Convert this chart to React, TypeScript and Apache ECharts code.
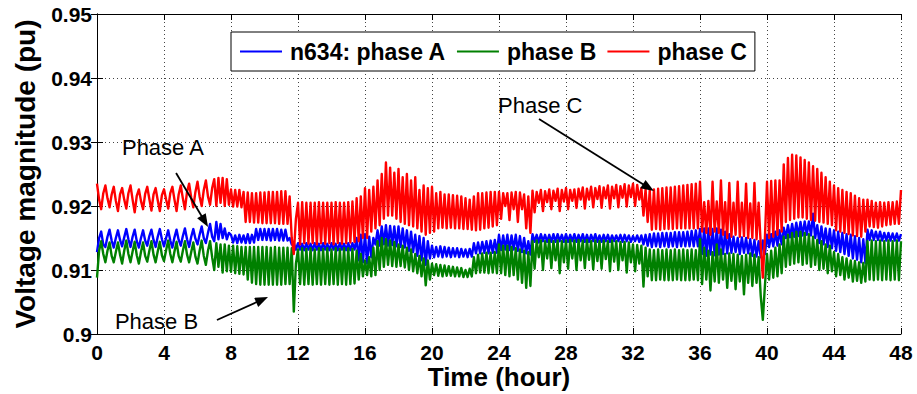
import { useEffect, useRef } from "react";
import * as echarts from "echarts";

// ---- data (per-unit voltage, sampled every 0.125 h, 0..48 h; one row per hour) ----
const STEP_HOURS = 0.125;
const xTickValues = [0, 4, 8, 12, 16, 20, 24, 28, 32, 36, 40, 44, 48];
const yTickLabels = ["0.9", "0.91", "0.92", "0.93", "0.94", "0.95"];

const seriesNames = ["n634: phase A", "phase B", "phase C"];

const phaseA = [
  0.9128, 0.9150, 0.9160, 0.9140, 0.9136, 0.9152, 0.9163, 0.9146,
  0.9135, 0.9150, 0.9162, 0.9147, 0.9137, 0.9151, 0.9164, 0.9148,
  0.9136, 0.9152, 0.9163, 0.9145, 0.9135, 0.9150, 0.9162, 0.9146,
  0.9138, 0.9153, 0.9163, 0.9147, 0.9136, 0.9152, 0.9164, 0.9148,
  0.9137, 0.9150, 0.9162, 0.9146, 0.9135, 0.9151, 0.9163, 0.9147,
  0.9138, 0.9153, 0.9165, 0.9148, 0.9136, 0.9152, 0.9164, 0.9149,
  0.9140, 0.9155, 0.9168, 0.9150, 0.9142, 0.9158, 0.9172, 0.9152,
  0.9145, 0.9175, 0.9148, 0.9172, 0.9150, 0.9165, 0.9148, 0.9158,
  0.9155, 0.9143, 0.9154, 0.9142, 0.9155, 0.9143, 0.9154, 0.9142,
  0.9156, 0.9142, 0.9155, 0.9143, 0.9164, 0.9147, 0.9164, 0.9147,
  0.9164, 0.9147, 0.9164, 0.9146, 0.9164, 0.9147, 0.9164, 0.9146,
  0.9163, 0.9146, 0.9163, 0.9146, 0.9150, 0.9140, 0.9142, 0.9132,
  0.9142, 0.9132, 0.9141, 0.9131, 0.9142, 0.9132, 0.9141, 0.9131,
  0.9142, 0.9132, 0.9141, 0.9131, 0.9142, 0.9132, 0.9141, 0.9131,
  0.9142, 0.9132, 0.9141, 0.9131, 0.9142, 0.9132, 0.9141, 0.9131,
  0.9142, 0.9131, 0.9142, 0.9132, 0.9150, 0.9115, 0.9155, 0.9112,
  0.9156, 0.9110, 0.9152, 0.9120, 0.9150, 0.9140, 0.9162, 0.9138,
  0.9168, 0.9140, 0.9170, 0.9138, 0.9169, 0.9139, 0.9168, 0.9137,
  0.9168, 0.9136, 0.9165, 0.9135, 0.9162, 0.9130, 0.9160, 0.9128,
  0.9155, 0.9122, 0.9153, 0.9115, 0.9150, 0.9108, 0.9145, 0.9118,
  0.9138, 0.9120, 0.9136, 0.9121, 0.9137, 0.9120, 0.9136, 0.9121,
  0.9135, 0.9120, 0.9134, 0.9121, 0.9134, 0.9120, 0.9133, 0.9121,
  0.9132, 0.9120, 0.9133, 0.9121, 0.9142, 0.9126, 0.9143, 0.9126,
  0.9144, 0.9127, 0.9145, 0.9126, 0.9146, 0.9127, 0.9147, 0.9127,
  0.9155, 0.9131, 0.9154, 0.9132, 0.9155, 0.9131, 0.9154, 0.9132,
  0.9155, 0.9130, 0.9153, 0.9128, 0.9150, 0.9126, 0.9145, 0.9124,
  0.9156, 0.9144, 0.9155, 0.9143, 0.9156, 0.9145, 0.9155, 0.9144,
  0.9155, 0.9144, 0.9156, 0.9144, 0.9156, 0.9145, 0.9155, 0.9144,
  0.9156, 0.9144, 0.9155, 0.9145, 0.9156, 0.9144, 0.9155, 0.9145,
  0.9156, 0.9144, 0.9155, 0.9144, 0.9155, 0.9145, 0.9156, 0.9144,
  0.9154, 0.9144, 0.9155, 0.9145, 0.9155, 0.9144, 0.9154, 0.9145,
  0.9154, 0.9145, 0.9155, 0.9144, 0.9155, 0.9145, 0.9154, 0.9144,
  0.9153, 0.9145, 0.9154, 0.9144, 0.9154, 0.9140, 0.9155, 0.9138,
  0.9156, 0.9136, 0.9157, 0.9137, 0.9157, 0.9136, 0.9158, 0.9137,
  0.9158, 0.9136, 0.9158, 0.9137, 0.9159, 0.9136, 0.9159, 0.9137,
  0.9159, 0.9137, 0.9160, 0.9137, 0.9161, 0.9137, 0.9162, 0.9137,
  0.9164, 0.9125, 0.9165, 0.9122, 0.9165, 0.9124, 0.9164, 0.9123,
  0.9165, 0.9124, 0.9163, 0.9125, 0.9160, 0.9126, 0.9156, 0.9127,
  0.9152, 0.9128, 0.9150, 0.9125, 0.9151, 0.9127, 0.9150, 0.9126,
  0.9148, 0.9122, 0.9147, 0.9121, 0.9145, 0.9120, 0.9146, 0.9125,
  0.9155, 0.9136, 0.9156, 0.9137, 0.9160, 0.9138, 0.9162, 0.9140,
  0.9166, 0.9150, 0.9170, 0.9151, 0.9172, 0.9152, 0.9174, 0.9153,
  0.9175, 0.9154, 0.9176, 0.9155, 0.9176, 0.9154, 0.9188, 0.9150,
  0.9170, 0.9142, 0.9168, 0.9140, 0.9165, 0.9136, 0.9164, 0.9134,
  0.9162, 0.9130, 0.9160, 0.9128, 0.9158, 0.9125, 0.9156, 0.9122,
  0.9155, 0.9118, 0.9153, 0.9116, 0.9150, 0.9112, 0.9148, 0.9111,
  0.9163, 0.9147, 0.9162, 0.9147, 0.9160, 0.9147, 0.9160, 0.9146,
  0.9158, 0.9146, 0.9158, 0.9146, 0.9157, 0.9146, 0.9157, 0.9146,
  0.9156,
];

const phaseB = [
  0.9088, 0.9130, 0.9145, 0.9125, 0.9112, 0.9130, 0.9143, 0.9122,
  0.9112, 0.9128, 0.9143, 0.9124, 0.9110, 0.9130, 0.9146, 0.9125,
  0.9112, 0.9129, 0.9144, 0.9123, 0.9110, 0.9128, 0.9143, 0.9122,
  0.9113, 0.9130, 0.9145, 0.9124, 0.9112, 0.9129, 0.9144, 0.9123,
  0.9114, 0.9131, 0.9146, 0.9125, 0.9112, 0.9129, 0.9144, 0.9122,
  0.9113, 0.9130, 0.9145, 0.9124, 0.9112, 0.9128, 0.9143, 0.9121,
  0.9110, 0.9130, 0.9146, 0.9122, 0.9108, 0.9130, 0.9145, 0.9120,
  0.9100, 0.9142, 0.9105, 0.9140, 0.9096, 0.9140, 0.9098, 0.9138,
  0.9097, 0.9138, 0.9095, 0.9137, 0.9094, 0.9136, 0.9093, 0.9136,
  0.9085, 0.9136, 0.9080, 0.9136, 0.9078, 0.9136, 0.9077, 0.9136,
  0.9077, 0.9136, 0.9077, 0.9135, 0.9077, 0.9136, 0.9077, 0.9135,
  0.9077, 0.9135, 0.9078, 0.9135, 0.9078, 0.9134, 0.9035, 0.9110,
  0.9132, 0.9078, 0.9134, 0.9077, 0.9133, 0.9078, 0.9134, 0.9077,
  0.9132, 0.9078, 0.9134, 0.9077, 0.9133, 0.9078, 0.9134, 0.9077,
  0.9132, 0.9078, 0.9134, 0.9077, 0.9133, 0.9078, 0.9134, 0.9077,
  0.9134, 0.9078, 0.9133, 0.9079, 0.9130, 0.9085, 0.9125, 0.9090,
  0.9115, 0.9092, 0.9120, 0.9090, 0.9135, 0.9092, 0.9145, 0.9100,
  0.9150, 0.9105, 0.9148, 0.9108, 0.9146, 0.9106, 0.9144, 0.9105,
  0.9140, 0.9106, 0.9138, 0.9104, 0.9135, 0.9100, 0.9132, 0.9098,
  0.9125, 0.9095, 0.9122, 0.9090, 0.9118, 0.9076, 0.9115, 0.9085,
  0.9110, 0.9092, 0.9109, 0.9091, 0.9108, 0.9090, 0.9107, 0.9091,
  0.9106, 0.9091, 0.9105, 0.9090, 0.9104, 0.9090, 0.9103, 0.9089,
  0.9100, 0.9089, 0.9102, 0.9090, 0.9120, 0.9095, 0.9124, 0.9096,
  0.9126, 0.9096, 0.9127, 0.9095, 0.9127, 0.9096, 0.9128, 0.9095,
  0.9140, 0.9095, 0.9138, 0.9092, 0.9138, 0.9090, 0.9136, 0.9092,
  0.9134, 0.9085, 0.9132, 0.9080, 0.9130, 0.9072, 0.9128, 0.9075,
  0.9145, 0.9102, 0.9146, 0.9120, 0.9146, 0.9100, 0.9145, 0.9118,
  0.9147, 0.9103, 0.9145, 0.9115, 0.9146, 0.9095, 0.9145, 0.9112,
  0.9146, 0.9102, 0.9147, 0.9118, 0.9146, 0.9100, 0.9147, 0.9115,
  0.9146, 0.9103, 0.9147, 0.9116, 0.9145, 0.9101, 0.9146, 0.9114,
  0.9145, 0.9102, 0.9146, 0.9117, 0.9145, 0.9098, 0.9146, 0.9113,
  0.9145, 0.9100, 0.9144, 0.9115, 0.9144, 0.9096, 0.9143, 0.9112,
  0.9140, 0.9098, 0.9139, 0.9110, 0.9138, 0.9074, 0.9135, 0.9090,
  0.9132, 0.9084, 0.9131, 0.9084, 0.9132, 0.9085, 0.9131, 0.9084,
  0.9132, 0.9084, 0.9131, 0.9084, 0.9132, 0.9085, 0.9131, 0.9084,
  0.9132, 0.9084, 0.9131, 0.9084, 0.9132, 0.9085, 0.9131, 0.9084,
  0.9148, 0.9078, 0.9135, 0.9085, 0.9130, 0.9068, 0.9128, 0.9082,
  0.9140, 0.9080, 0.9132, 0.9085, 0.9125, 0.9072, 0.9126, 0.9083,
  0.9125, 0.9070, 0.9124, 0.9082, 0.9122, 0.9062, 0.9124, 0.9080,
  0.9126, 0.9075, 0.9124, 0.9080, 0.9120, 0.9060, 0.9022, 0.9075,
  0.9125, 0.9085, 0.9130, 0.9088, 0.9135, 0.9090, 0.9140, 0.9095,
  0.9152, 0.9105, 0.9155, 0.9108, 0.9158, 0.9110, 0.9160, 0.9112,
  0.9160, 0.9108, 0.9158, 0.9110, 0.9156, 0.9105, 0.9152, 0.9108,
  0.9147, 0.9100, 0.9145, 0.9102, 0.9140, 0.9095, 0.9138, 0.9098,
  0.9128, 0.9090, 0.9125, 0.9092, 0.9120, 0.9085, 0.9118, 0.9088,
  0.9115, 0.9082, 0.9114, 0.9083, 0.9112, 0.9080, 0.9111, 0.9082,
  0.9145, 0.9085, 0.9146, 0.9084, 0.9145, 0.9085, 0.9146, 0.9084,
  0.9145, 0.9085, 0.9146, 0.9084, 0.9145, 0.9085, 0.9146, 0.9084,
  0.9145,
];

const phaseC = [
  0.9235, 0.9210, 0.9195, 0.9220, 0.9232, 0.9212, 0.9198, 0.9218,
  0.9230, 0.9208, 0.9192, 0.9218, 0.9228, 0.9210, 0.9196, 0.9220,
  0.9232, 0.9210, 0.9190, 0.9216, 0.9226, 0.9208, 0.9195, 0.9219,
  0.9230, 0.9211, 0.9193, 0.9218, 0.9228, 0.9209, 0.9192, 0.9217,
  0.9226, 0.9210, 0.9196, 0.9220, 0.9230, 0.9210, 0.9192, 0.9218,
  0.9232, 0.9212, 0.9195, 0.9222, 0.9235, 0.9213, 0.9198, 0.9222,
  0.9238, 0.9215, 0.9200, 0.9225, 0.9240, 0.9215, 0.9202, 0.9228,
  0.9242, 0.9200, 0.9244, 0.9205, 0.9244, 0.9200, 0.9242, 0.9202,
  0.9226, 0.9199, 0.9225, 0.9199, 0.9225, 0.9198, 0.9222, 0.9175,
  0.9221, 0.9175, 0.9220, 0.9174, 0.9220, 0.9174, 0.9221, 0.9173,
  0.9221, 0.9173, 0.9222, 0.9173, 0.9222, 0.9173, 0.9222, 0.9172,
  0.9223, 0.9172, 0.9223, 0.9172, 0.9215, 0.9150, 0.9125, 0.9180,
  0.9205, 0.9140, 0.9206, 0.9142, 0.9205, 0.9141, 0.9205, 0.9142,
  0.9205, 0.9140, 0.9206, 0.9142, 0.9205, 0.9141, 0.9205, 0.9142,
  0.9205, 0.9140, 0.9206, 0.9142, 0.9205, 0.9141, 0.9205, 0.9142,
  0.9206, 0.9143, 0.9207, 0.9144, 0.9212, 0.9145, 0.9215, 0.9150,
  0.9228, 0.9150, 0.9225, 0.9160, 0.9230, 0.9165, 0.9240, 0.9170,
  0.9250, 0.9180, 0.9268, 0.9185, 0.9260, 0.9185, 0.9252, 0.9180,
  0.9258, 0.9175, 0.9245, 0.9172, 0.9250, 0.9170, 0.9240, 0.9168,
  0.9245, 0.9165, 0.9225, 0.9160, 0.9232, 0.9155, 0.9228, 0.9158,
  0.9230, 0.9160, 0.9220, 0.9165, 0.9222, 0.9166, 0.9218, 0.9165,
  0.9218, 0.9166, 0.9217, 0.9165, 0.9216, 0.9165, 0.9215, 0.9164,
  0.9212, 0.9164, 0.9210, 0.9163, 0.9215, 0.9162, 0.9220, 0.9163,
  0.9220, 0.9165, 0.9221, 0.9166, 0.9222, 0.9168, 0.9222, 0.9170,
  0.9222, 0.9180, 0.9220, 0.9200, 0.9220, 0.9178, 0.9221, 0.9195,
  0.9222, 0.9175, 0.9221, 0.9195, 0.9218, 0.9165, 0.9215, 0.9158,
  0.9224, 0.9190, 0.9222, 0.9205, 0.9225, 0.9192, 0.9223, 0.9206,
  0.9226, 0.9195, 0.9224, 0.9208, 0.9227, 0.9192, 0.9225, 0.9207,
  0.9228, 0.9195, 0.9225, 0.9208, 0.9226, 0.9197, 0.9227, 0.9210,
  0.9229, 0.9196, 0.9227, 0.9210, 0.9230, 0.9198, 0.9228, 0.9211,
  0.9231, 0.9197, 0.9229, 0.9212, 0.9232, 0.9196, 0.9230, 0.9212,
  0.9233, 0.9198, 0.9231, 0.9213, 0.9234, 0.9199, 0.9232, 0.9214,
  0.9235, 0.9200, 0.9233, 0.9210, 0.9228, 0.9185, 0.9226, 0.9175,
  0.9225, 0.9163, 0.9226, 0.9164, 0.9227, 0.9163, 0.9228, 0.9164,
  0.9229, 0.9164, 0.9229, 0.9164, 0.9230, 0.9165, 0.9231, 0.9165,
  0.9232, 0.9165, 0.9233, 0.9165, 0.9234, 0.9165, 0.9235, 0.9165,
  0.9238, 0.9160, 0.9206, 0.9158, 0.9208, 0.9155, 0.9238, 0.9160,
  0.9207, 0.9158, 0.9240, 0.9155, 0.9206, 0.9150, 0.9236, 0.9152,
  0.9205, 0.9155, 0.9238, 0.9152, 0.9205, 0.9153, 0.9235, 0.9150,
  0.9204, 0.9150, 0.9236, 0.9148, 0.9205, 0.9140, 0.9088, 0.9150,
  0.9238, 0.9150, 0.9239, 0.9152, 0.9240, 0.9155, 0.9240, 0.9160,
  0.9265, 0.9175, 0.9275, 0.9178, 0.9280, 0.9180, 0.9279, 0.9182,
  0.9276, 0.9182, 0.9272, 0.9180, 0.9268, 0.9178, 0.9262, 0.9177,
  0.9258, 0.9175, 0.9252, 0.9174, 0.9245, 0.9172, 0.9238, 0.9170,
  0.9232, 0.9162, 0.9228, 0.9160, 0.9225, 0.9158, 0.9222, 0.9156,
  0.9220, 0.9154, 0.9216, 0.9153, 0.9212, 0.9152, 0.9210, 0.9160,
  0.9210, 0.9168, 0.9208, 0.9167, 0.9205, 0.9166, 0.9206, 0.9168,
  0.9205, 0.9170, 0.9206, 0.9171, 0.9206, 0.9172, 0.9207, 0.9172,
  0.9225,
];

// ---- annotations (data coordinates: [hour, pu]) ----
const annotationTexts = ["Phase A", "Phase B", "Phase C"];
const annotationLayout = [
  { textAt: [1.49, 0.9292], from: [4.72, 0.92516], to: [6.63, 0.91672] },
  { textAt: [1.07, 0.90188], from: [7.16, 0.90219], to: [10.21, 0.90578] },
  { textAt: [23.94, 0.93563], from: [26.39, 0.93359], to: [33.25, 0.92234] },
];

const COLORS = ["#0000ff", "#008000", "#ff0000"];
const FONT = "'Liberation Sans', Arial, Helvetica, sans-serif";

export default function App() {
  const ref = useRef<HTMLDivElement>(null);

  useEffect(() => {
    if (!ref.current) return;
    const chart = echarts.init(ref.current, null, { renderer: "svg" });
    const values = [phaseA, phaseB, phaseC];
    const toPairs = (arr: number[]) => arr.map((v, i) => [i * STEP_HOURS, v]);

    const axisCommon = {
      axisLine: { show: true, lineStyle: { color: "#000", width: 1 } },
      axisTick: { show: true, inside: true, length: 6, lineStyle: { color: "#000" } },
    };

    chart.setOption({
      animation: false,
      backgroundColor: "#fff",
      textStyle: { fontFamily: FONT },
      grid: { left: 97, right: 16, top: 14, bottom: 60, containLabel: false, outerBoundsMode: "none" },
      legend: {
        data: seriesNames.map((n) => ({ name: n, icon: "rect" })),
        left: 231,
        top: 32,
        padding: [8, 8, 8, 9],
        itemGap: 11,
        itemWidth: 42,
        itemHeight: 2,
        borderColor: "#000",
        borderWidth: 1,
        backgroundColor: "#fff",
        textStyle: { fontSize: 23, fontWeight: "bold", color: "#000", fontFamily: FONT, padding: [0, 0, 0, 3] },
      },
      xAxis: [
        {
          type: "value",
          min: 0,
          max: 48,
          interval: 4,
          ...axisCommon,
          axisLabel: {
            color: "#000",
            fontSize: 21,
            fontWeight: "bold",
            fontFamily: FONT,
            margin: 8,
            formatter: (v: number) => (xTickValues.includes(v) ? String(v) : ""),
          },
          splitLine: { show: true, lineStyle: { color: "#444", type: [1, 3], width: 1 } },
          name: "Time (hour)",
          nameLocation: "middle",
          nameGap: 30,
          nameMoveOverlap: false,
          nameTextStyle: { color: "#000", fontSize: 26, fontWeight: "bold", fontFamily: FONT, lineHeight: 26 },
        },
        {
          type: "value",
          position: "top",
          min: 0,
          max: 48,
          interval: 4,
          ...axisCommon,
          axisLabel: { show: false },
          splitLine: { show: false },
        },
      ],
      yAxis: [
        {
          type: "value",
          min: 0.9,
          max: 0.95,
          interval: 0.01,
          ...axisCommon,
          axisLabel: {
            color: "#000",
            fontSize: 21,
            fontWeight: "bold",
            fontFamily: FONT,
            margin: 5,
            formatter: (v: number) => yTickLabels[Math.round((v - 0.9) / 0.01)] ?? "",
          },
          splitLine: { show: true, lineStyle: { color: "#444", type: [1, 3], width: 1 } },
          name: "Voltage magnitude (pu)",
          nameLocation: "middle",
          nameGap: 58,
          nameMoveOverlap: false,
          nameTextStyle: { color: "#000", fontSize: 28, fontWeight: "bold", fontFamily: FONT },
        },
        {
          type: "value",
          position: "right",
          min: 0.9,
          max: 0.95,
          interval: 0.01,
          ...axisCommon,
          axisLabel: { show: false },
          splitLine: { show: false },
        },
      ],
      series: values.map((arr, k) => ({
        name: seriesNames[k],
        type: "line",
        xAxisIndex: 0,
        yAxisIndex: 0,
        data: toPairs(arr),
        symbol: "none",
        showSymbol: false,
        color: COLORS[k],
        lineStyle: { color: COLORS[k], width: 2.4, join: "round" },
        z: 2 + k,
      })),
    });

    // annotations placed via the chart's own coordinate system
    const px = (p: number[]) => chart.convertToPixel({ xAxisIndex: 0, yAxisIndex: 0 }, p) as number[];
    const graphics: any[] = [];
    annotationLayout.forEach((a, i) => {
      const t = px(a.textAt);
      const f = px(a.from);
      const e = px(a.to);
      graphics.push({
        type: "text",
        x: t[0],
        y: t[1],
        z: 100,
        style: { text: annotationTexts[i], fontSize: 22, fontFamily: FONT, fill: "#000", verticalAlign: "middle", align: "left" },
      });
      const dx = e[0] - f[0];
      const dy = e[1] - f[1];
      const len = Math.hypot(dx, dy);
      const ux = dx / len;
      const uy = dy / len;
      const L = 13;
      const W = 5;
      const bx = e[0] - ux * L;
      const by = e[1] - uy * L;
      graphics.push({
        type: "line",
        z: 100,
        shape: { x1: f[0], y1: f[1], x2: bx + ux * 2, y2: by + uy * 2 },
        style: { stroke: "#000", lineWidth: 1.8 },
      });
      graphics.push({
        type: "polygon",
        z: 100,
        shape: {
          points: [
            [e[0], e[1]],
            [bx - uy * W, by + ux * W],
            [bx + uy * W, by - ux * W],
          ],
        },
        style: { fill: "#000" },
      });
    });
    chart.setOption({ graphic: graphics });

    return () => chart.dispose();
  }, []);

  return (
    <div
      ref={ref}
      style={{ position: "fixed", left: 0, top: 0, width: 917, height: 394, background: "#fff" }}
    />
  );
}
